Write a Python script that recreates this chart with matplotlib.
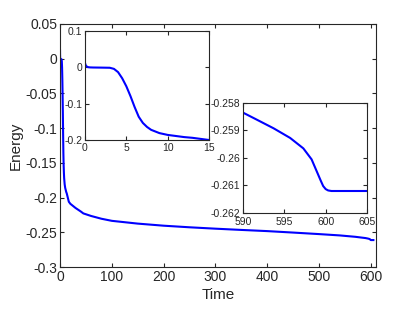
import numpy as np
import matplotlib
matplotlib.use("Agg")
import matplotlib.pyplot as plt

plt.rcParams['font.family'] = ['Liberation Sans', 'DejaVu Sans']
plt.rcParams['axes.unicode_minus'] = False

# energy vs time
time = [0, 0.1, 0.3, 0.6, 1, 2, 3, 3.5, 4, 4.5, 5, 5.5, 6, 6.5, 7, 7.5, 8, 9, 10,
        11, 12, 13, 14, 15, 17, 20, 25, 30, 40, 45, 60, 80, 100, 150, 200, 250,
        300, 350, 400, 450, 500, 540, 570, 590, 591.5, 593.7, 595.7, 597.3, 598.3,
        599.0, 599.4, 599.7, 600.0, 600.3, 600.7, 605]
energy = [0.012, 0.005, 0.001, 0.0, -0.0003, -0.0006, -0.001, -0.004, -0.013,
          -0.03, -0.052, -0.079, -0.109, -0.136, -0.153, -0.164, -0.172, -0.181,
          -0.186, -0.189, -0.192, -0.194, -0.197, -0.2, -0.206, -0.209, -0.212,
          -0.215, -0.220, -0.2228, -0.2265, -0.2305, -0.2335, -0.2375, -0.2405,
          -0.2428, -0.2448, -0.2466, -0.2483, -0.2504, -0.2526, -0.2545, -0.2565,
          -0.25835, -0.25858, -0.25892, -0.25927, -0.25965, -0.26005, -0.26054,
          -0.26082, -0.26102, -0.26113, -0.26118, -0.2612, -0.2612]

main_xticks = [0, 100, 200, 300, 400, 500, 600]
main_yticks = [0.05, 0, -0.05, -0.1, -0.15, -0.2, -0.25, -0.3]
main_ylabels = ['0.05', '0', '-0.05', '-0.1', '-0.15', '-0.2', '-0.25', '-0.3']
in1_xticks = [0, 5, 10, 15]
in1_yticks = [0.1, 0, -0.1, -0.2]
in1_ylabels = ['0.1', '0', '-0.1', '-0.2']
in2_xticks = [590, 595, 600, 605]
in2_yticks = [-0.258, -0.259, -0.26, -0.261, -0.262]
in2_ylabels = ['-0.258', '-0.259', '-0.26', '-0.261', '-0.262']

AX_COL = '#262626'


def style(ax, size, xpad=2):
    for s in ax.spines.values():
        s.set_color(AX_COL)
        s.set_linewidth(0.8)
    ax.tick_params(direction='in', top=True, right=True, labelsize=size,
                   colors=AX_COL, labelcolor=AX_COL, length=3, width=0.8, pad=2)
    ax.tick_params(axis='x', pad=xpad)


fig = plt.figure(figsize=(4.15, 3.12), dpi=100)

ax = fig.add_axes([0.1446, 0.1442, 0.7614, 0.779])
ax.plot(time, energy, color='#0000ff', lw=1.5)
ax.set_xlim(0, 610)
ax.set_ylim(-0.3, 0.05)
ax.set_xticks(main_xticks)
ax.set_yticks(main_yticks)
ax.set_yticklabels(main_ylabels)
ax.set_xlabel('Time', fontsize=11, color=AX_COL, labelpad=3)
ax.set_ylabel('Energy', fontsize=11, color=AX_COL, labelpad=2)
style(ax, 10)

ax1 = fig.add_axes([0.2048, 0.5513, 0.2988, 0.349])
ax1.plot(time, energy, color='#0000ff', lw=1.5)
ax1.set_xlim(0, 15)
ax1.set_ylim(-0.2, 0.1)
ax1.set_xticks(in1_xticks)
ax1.set_yticks(in1_yticks)
ax1.set_yticklabels(in1_ylabels)
style(ax1, 7.5)

ax2 = fig.add_axes([0.5855, 0.3173, 0.2988, 0.3526])
ax2.plot(time, energy, color='#0000ff', lw=1.5)
ax2.set_xlim(590, 605)
ax2.set_ylim(-0.262, -0.258)
ax2.set_xticks(in2_xticks)
ax2.set_yticks(in2_yticks)
ax2.set_yticklabels(in2_ylabels)
style(ax2, 7.5, xpad=3)

fig.savefig('out.png', dpi=100)
